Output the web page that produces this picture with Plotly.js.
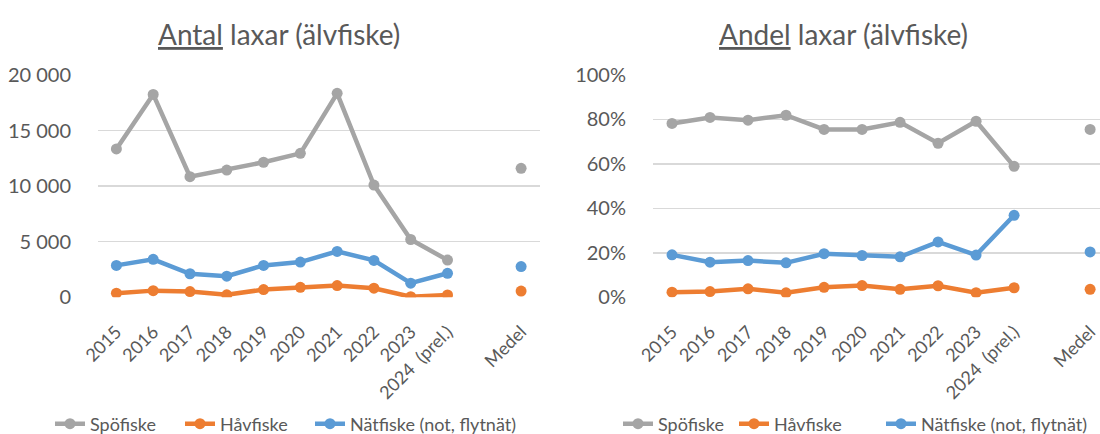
<!DOCTYPE html>
<html>
<head>
<meta charset="utf-8">
<script src="https://cdn.plot.ly/plotly-3.0.1.min.js"></script>
<style>html,body{margin:0;padding:0;background:#fff;}#chart{width:1100px;height:434px;}</style>
</head>
<body>
<div id="chart"></div>
<script>
// Categories (one empty slot before "Medel")
const categories = ['2015','2016','2017','2018','2019','2020','2021','2022','2023','2024\u00a0 (prel.)','','Medel'];

// Antal laxar (number of salmon)
const antalSpofiske = [13350, 18250, 10850, 11450, 12150, 12950, 18350, 10100, 5200, 3350, null, 11600];
const antalHavfiske = [370, 600, 520, 220, 700, 900, 1060, 820, 50, 210, null, 560];
const antalNatfiske = [2870, 3420, 2120, 1900, 2870, 3170, 4130, 3320, 1270, 2160, null, 2760];

// Andel laxar (share of salmon)
const andelSpofiske = [0.782, 0.809, 0.797, 0.819, 0.755, 0.755, 0.787, 0.693, 0.792, 0.589, null, 0.755];
const andelHavfiske = [0.023, 0.026, 0.038, 0.020, 0.045, 0.053, 0.036, 0.052, 0.021, 0.043, null, 0.036];
const andelNatfiske = [0.191, 0.158, 0.165, 0.155, 0.196, 0.188, 0.182, 0.249, 0.190, 0.369, null, 0.204];

const seriesNames = ['Spöfiske', 'Håvfiske', 'Nätfiske (not, flytnät)'];
const seriesColors = ['#a5a5a5', '#ed7d31', '#5b9bd5'];

const xIdx = categories.map((c, i) => i);

function mk(y, k, axis, legend) {
  return {
    x: xIdx, y: y, type: 'scatter', mode: 'lines+markers',
    name: seriesNames[k],
    line: {color: seriesColors[k], width: 4.5},
    marker: {color: seriesColors[k], size: 11},
    connectgaps: false,
    xaxis: axis === 1 ? 'x' : 'x2',
    yaxis: axis === 1 ? 'y' : 'y2',
    legend: legend,
    hoverinfo: 'skip'
  };
}

const traces = [
  mk(antalSpofiske, 0, 1, 'legend'),
  mk(antalHavfiske, 1, 1, 'legend2'),
  mk(antalNatfiske, 2, 1, 'legend3'),
  mk(andelSpofiske, 0, 2, 'legend4'),
  mk(andelHavfiske, 1, 2, 'legend5'),
  mk(andelNatfiske, 2, 2, 'legend6')
];

const FONT = 'Lato, "Open Sans", sans-serif';
const GREY = '#595959';
const W = 1100, H = 434, MB = 60;
const PH = H - MB;
const py = (px) => (PH - px) / PH;   // pixel y from top -> plot-area fraction

const xCommon = {
  tickmode: 'array', tickvals: xIdx, ticktext: categories,
  tickangle: -45, showgrid: false, zeroline: false, showline: false,
  ticks: 'outside', ticklen: 16, tickcolor: 'rgba(0,0,0,0)',
  tickfont: {family: FONT, size: 18, color: GREY},
  fixedrange: true, automargin: false
};
const yCommon = {
  showgrid: true, gridcolor: '#d9d9d9', gridwidth: 1.5,
  zeroline: false, showline: false,
  ticks: 'outside', ticklen: 22, tickcolor: 'rgba(0,0,0,0)',
  tickfont: {family: FONT, size: 20, color: GREY},
  fixedrange: true, automargin: false,
  domain: [py(297.3), py(75)]
};

function leg(xpx) {
  return {orientation: 'h', xref: 'container', yref: 'container',
          x: xpx / W, xanchor: 'left', y: 1 - 424 / H, yanchor: 'middle',
          font: {family: FONT, size: 18, color: GREY}, bgcolor: 'rgba(0,0,0,0)'};
}

const layout = {
  width: W, height: H,
  margin: {l: 0, r: 0, t: 0, b: MB},
  paper_bgcolor: '#fff', plot_bgcolor: '#fff',
  separators: ', ',
  showlegend: true,
  hovermode: false,
  xaxis: Object.assign({}, xCommon, {domain: [98/W, 539.5/W], range: [-0.5, 11.5], anchor: 'y'}),
  yaxis: Object.assign({}, yCommon, {range: [0, 20000], dtick: 5000, tickformat: ',d', anchor: 'x'}),
  xaxis2: Object.assign({}, xCommon, {domain: [653/W, 1], range: [-0.5, 11.26], anchor: 'y2'}),
  yaxis2: Object.assign({}, yCommon, {range: [0, 1], dtick: 0.2, tickformat: '.0%', anchor: 'x2'}),
  legend: leg(50), legend2: leg(180), legend3: leg(310),
  legend4: leg(618), legend5: leg(734), legend6: leg(881),
  annotations: [
    {text: '<u>Antal</u> laxar (älvfiske)', xref: 'paper', yref: 'paper', x: 279/W, y: py(34),
     xanchor: 'center', yanchor: 'middle', showarrow: false, font: {family: FONT, size: 28, color: GREY}},
    {text: '<u>Andel</u> laxar (älvfiske)', xref: 'paper', yref: 'paper', x: 844/W, y: py(34),
     xanchor: 'center', yanchor: 'middle', showarrow: false, font: {family: FONT, size: 28, color: GREY}}
  ]
};

Plotly.newPlot('chart', traces, layout, {displayModeBar: false, staticPlot: true});
</script>
</body>
</html>
